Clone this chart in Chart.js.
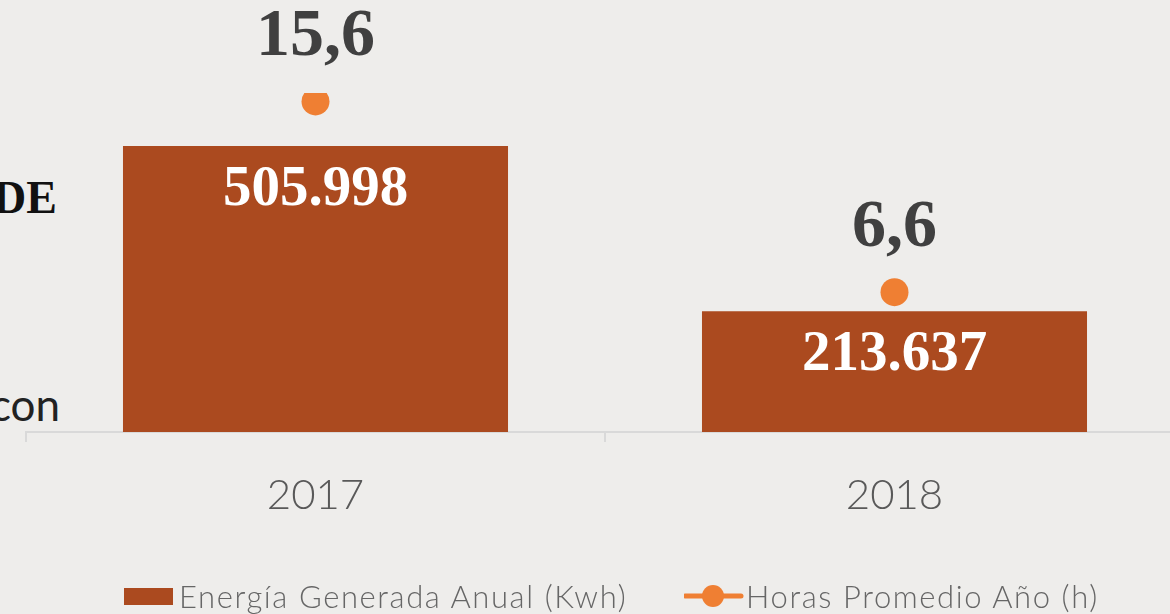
<!DOCTYPE html>
<html>
<head>
<meta charset="utf-8">
<script src="https://cdn.jsdelivr.net/npm/chart.js@4.4.1/dist/chart.umd.min.js"></script>
<style>
  html, body { margin: 0; padding: 0; background: #EEEDEB; }
  body { width: 1170px; height: 614px; overflow: hidden; position: relative; }
  #wrap { position: absolute; left: 0; top: 0; width: 1210px; height: 614px; }
  .frag { position: absolute; white-space: nowrap; }
  #f1 { left: -7px; top: 171px; font: bold 46px "Liberation Serif", serif; color: #111; }
  #f2 { left: -10px; top: 378px; font: 400 44px Lato, sans-serif; color: #222; }
  .leg { position: absolute; top: 578px; height: 36px; display: flex; align-items: center; font: 300 31px Lato, sans-serif; color: #666; white-space: nowrap; letter-spacing: 1.6px; }
  .box { width: 49px; height: 17px; background: #AB4A1F; margin-right: 6px; }
</style>
</head>
<body>
<div class="frag" id="f1">DE</div>
<div class="frag" id="f2">con</div>
<div id="wrap"><canvas id="c"></canvas></div>
<div class="leg" id="leg1"><span class="box"></span><span id="l1"></span></div>
<div class="leg" id="leg2"><svg width="62" height="30"><line x1="1" y1="15" x2="57" y2="15" stroke="#EF7F33" stroke-width="5" stroke-linecap="round"/><circle cx="29" cy="15" r="11" fill="#EF7F33"/></svg><span id="l2"></span></div>
<script>
const categories = ["2017", "2018"];
const energia = [505998, 213637];
const horas = [15.6, 6.6];
const seriesNames = ["Energía Generada Anual (Kwh)", "Horas Promedio Año (h)"];

document.getElementById('l1').textContent = seriesNames[0];
document.getElementById('l2').textContent = seriesNames[1];
document.getElementById('leg1').style.left = '124px';
document.getElementById('leg2').style.left = '684px';

const fmt = new Intl.NumberFormat('de-DE', { maximumFractionDigits: 1 });

const labelPlugin = {
  id: 'valueLabels',
  afterDatasetsDraw(chart) {
    const ctx = chart.ctx;
    ctx.save();
    ctx.textAlign = 'center';
    ctx.textBaseline = 'middle';
    const barMeta = chart.getDatasetMeta(0);
    ctx.font = 'bold 57px "Liberation Serif", serif';
    ctx.fillStyle = '#FFFFFF';
    barMeta.data.forEach((el, i) => {
      ctx.fillText(fmt.format(energia[i]), el.x, el.y + 44);
    });
    const lineMeta = chart.getDatasetMeta(1);
    ctx.font = 'bold 68px "Liberation Serif", serif';
    ctx.fillStyle = '#404040';
    lineMeta.data.forEach((el, i) => {
      ctx.fillText(fmt.format(horas[i]), el.x, el.y - 64);
    });
    ctx.restore();
  }
};

new Chart(document.getElementById('c'), {
  type: 'bar',
  data: {
    labels: categories,
    datasets: [
      {
        label: seriesNames[0],
        data: energia,
        backgroundColor: '#AB4A1F',
        yAxisID: 'y',
        barPercentage: 0.665,
        categoryPercentage: 1.0,
        order: 2
      },
      {
        type: 'line',
        label: seriesNames[1],
        data: horas,
        yAxisID: 'y2',
        showLine: false,
        pointRadius: 14,
        pointHoverRadius: 14,
        pointBackgroundColor: '#EF7F33',
        pointBorderWidth: 0,
        borderColor: '#EF7F33',
        order: 1
      }
    ]
  },
  options: {
    responsive: true,
    maintainAspectRatio: false,
    animation: false,
    events: [],
    layout: { padding: { top: 93, left: 26, right: 26, bottom: 0 } },
    plugins: { legend: { display: false }, tooltip: { enabled: false } },
    scales: {
      x: {
        offset: true,
        grid: { offset: true, drawOnChartArea: false, color: '#D9D9D9', lineWidth: 2, tickLength: 10 },
        border: { display: true, color: '#D9D9D9', width: 2 },
        ticks: { color: '#595959', font: { family: 'Lato', size: 42, weight: 300 }, padding: 28 },
        afterFit(scale) { scale.height = 182; }
      },
      y: { display: false, min: 0, max: 600000 },
      y2: { display: false, min: 0, max: 16 }
    }
  },
  plugins: [labelPlugin]
});
</script>
</body>
</html>
